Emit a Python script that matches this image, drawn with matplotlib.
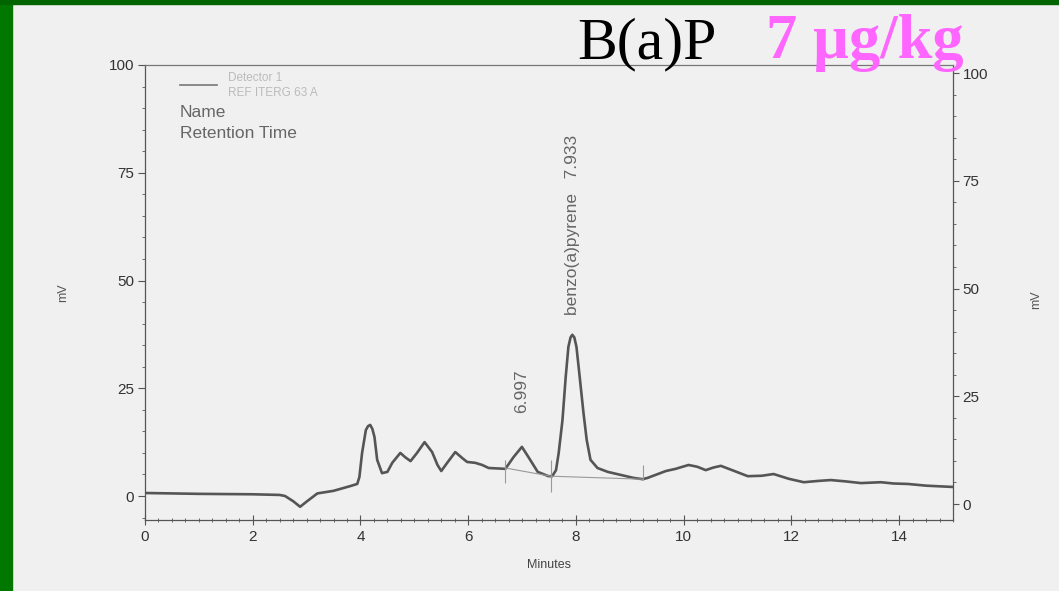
import numpy as np
import matplotlib.pyplot as plt
from matplotlib.patches import Rectangle
from matplotlib.ticker import MultipleLocator

# Cromatograma HPLC (detector de fluorescencia), muestra con 7 µg/kg de B(a)P
t_min = np.array([0.0, 0.5, 1.0, 1.5, 2.0, 2.5, 2.6, 2.75, 2.88, 3.0, 3.2, 3.5, 3.81, 3.94,
                  3.98, 4.03, 4.1, 4.14, 4.18, 4.22, 4.26, 4.31, 4.4, 4.5, 4.59, 4.74, 4.83,
                  4.93, 5.05, 5.19, 5.33, 5.43, 5.5, 5.61, 5.76, 5.89, 5.98, 6.13, 6.26, 6.38,
                  6.69, 6.84, 6.997, 7.12, 7.29, 7.49, 7.56, 7.63, 7.68, 7.75, 7.81, 7.86,
                  7.90, 7.933, 7.97, 8.01, 8.07, 8.14, 8.2, 8.27, 8.4, 8.59, 8.83, 9.07, 9.24,
                  9.33, 9.5, 9.67, 9.85, 10.09, 10.25, 10.41, 10.55, 10.69, 10.9, 11.19,
                  11.45, 11.67, 11.95, 12.23, 12.5, 12.73, 13.0, 13.29, 13.66, 13.9, 14.16,
                  14.5, 15.0])
senal_mv = np.array([0.7, 0.6, 0.5, 0.45, 0.4, 0.25, 0.0, -1.2, -2.5, -1.3, 0.6, 1.2, 2.3, 2.8,
                     4.4, 10.0, 15.3, 16.2, 16.5, 15.6, 13.7, 8.4, 5.3, 5.6, 7.7, 10.0, 9.0,
                     8.1, 10.0, 12.5, 10.2, 7.2, 5.8, 7.7, 10.2, 8.8, 7.9, 7.7, 7.2, 6.5,
                     6.3, 9.0, 11.4, 9.0, 5.6, 4.6, 4.6, 6.0, 10.0, 17.6, 27.6, 34.6,
                     36.8, 37.4, 36.8, 34.6, 27.6, 19.3, 13.0, 8.4, 6.5, 5.6, 4.9, 4.2, 3.9,
                     4.2, 5.0, 5.8, 6.3, 7.2, 6.8, 6.0, 6.6, 7.0, 6.0, 4.6,
                     4.7, 5.1, 4.0, 3.2, 3.5, 3.7, 3.4, 3.0, 3.2, 2.9, 2.8,
                     2.4, 2.1])

# Líneas base de integración y marcas de inicio/fin de pico
base_t = [6.69, 7.53, 9.24]
base_mv = [6.5, 4.6, 3.9]
marca_y0 = [3.0, 0.9, 3.7]
marca_y1 = [8.4, 8.4, 7.2]

# Picos identificados
pico_rt = [6.997, 7.933]
pico_txt = ["6.997", "benzo(a)pyrene   7.933"]
pico_txt_y = [19.3, 42.0]

gris = "#555555"
plt.rcParams["font.family"] = ["Liberation Sans", "DejaVu Sans"]

fig = plt.figure(figsize=(10.59, 5.91), dpi=100, facecolor="#f0f0f0")
# marco verde de la diapositiva
fig.patches.append(Rectangle((0, 0), 12 / 1059, 1, transform=fig.transFigure,
                             color="#007800", zorder=0))
fig.patches.append(Rectangle((0, 1 - 4 / 591), 1, 4 / 591, transform=fig.transFigure,
                             color="#006400", zorder=0))

ax = fig.add_axes([145 / 1059, 71.5 / 591, 808 / 1059, 454.5 / 591])
ax.set_facecolor("none")
ax.plot(t_min, senal_mv, color=gris, lw=1.9, solid_joinstyle="round")

ax.plot(base_t, base_mv, color="#999999", lw=0.8)
ax.vlines(base_t, marca_y0, marca_y1, color="#999999", lw=0.8)

for rt, txt, ty in zip(pico_rt, pico_txt, pico_txt_y):
    ax.text(rt, ty, txt, rotation=90, ha="center", va="bottom",
            fontsize=12.5, color="#666666")

ax.set_xlim(0, 15)
ax.set_ylim(-5.45, 100)
ax.xaxis.set_major_locator(MultipleLocator(2))
ax.xaxis.set_minor_locator(MultipleLocator(0.25))
ax.yaxis.set_major_locator(MultipleLocator(25))
ax.yaxis.set_minor_locator(MultipleLocator(5))
ax.tick_params(axis="x", which="major", direction="inout", length=7, width=0.8,
               color=gris, labelsize=11, labelcolor="#333333", pad=4)
ax.tick_params(axis="x", which="minor", direction="inout", length=3, width=0.6, color=gris)
ax.tick_params(axis="y", which="major", direction="out", length=5, width=0.8,
               color=gris, labelsize=11, labelcolor="#333333", pad=3)
ax.tick_params(axis="y", which="minor", direction="out", length=2, width=0.6, color=gris)
for lado in ["left", "bottom", "right"]:
    ax.spines[lado].set_color(gris)
    ax.spines[lado].set_linewidth(0.9)
ax.spines["top"].set_color("#777777")
ax.spines["top"].set_linewidth(0.9)

# eje derecho (ligeramente desplazado en el registro)
ax2 = ax.twinx()
ax2.set_ylim(-5.45 + 1.86, 100 + 1.86)
ax2.yaxis.set_major_locator(MultipleLocator(25))
ax2.yaxis.set_minor_locator(MultipleLocator(5))
ax2.tick_params(axis="y", which="major", direction="out", length=4, width=0.8,
                color=gris, labelsize=11, labelcolor="#333333", pad=3)
ax2.tick_params(axis="y", which="minor", direction="out", length=2, width=0.6, color=gris)
for lado in ["left", "bottom", "right", "top"]:
    ax2.spines[lado].set_visible(False)

ax.set_xlabel("Minutes", fontsize=9, color="#444444", labelpad=11)
fig.text(63 / 1059, 1 - 293 / 591, "mV", rotation=90, ha="center", va="center",
         fontsize=9, color=gris)
fig.text(1036 / 1059, 1 - 300 / 591, "mV", rotation=90, ha="center", va="center",
         fontsize=9, color=gris)

# leyenda del informe del integrador
fig.add_artist(plt.Line2D([180 / 1059, 217 / 1059], [1 - 85 / 591, 1 - 85 / 591],
                          color="#777777", lw=1.2))
fig.text(228 / 1059, 1 - 78 / 591, "Detector 1", fontsize=8.5, color="#bbbbbb",
         va="center")
fig.text(228 / 1059, 1 - 93 / 591, "REF ITERG 63 A", fontsize=8.5, color="#bbbbbb",
         va="center")
fig.text(180 / 1059, 1 - 113 / 591, "Name", fontsize=12.5, color="#666666", va="center")
fig.text(180 / 1059, 1 - 133 / 591, "Retention Time", fontsize=12.5, color="#666666",
         va="center")

# título
fig.text(577 / 1059, 1 - 58 / 591, "B(a)P", fontsize=43, family="Liberation Serif",
         color="black", va="baseline")
fig.text(766 / 1059, 1 - 58 / 591, "7 µg/kg", fontsize=45, family="Liberation Serif",
         weight="bold", color="#ff66ff", va="baseline")

fig.savefig("out.png", dpi=100, facecolor=fig.get_facecolor())
